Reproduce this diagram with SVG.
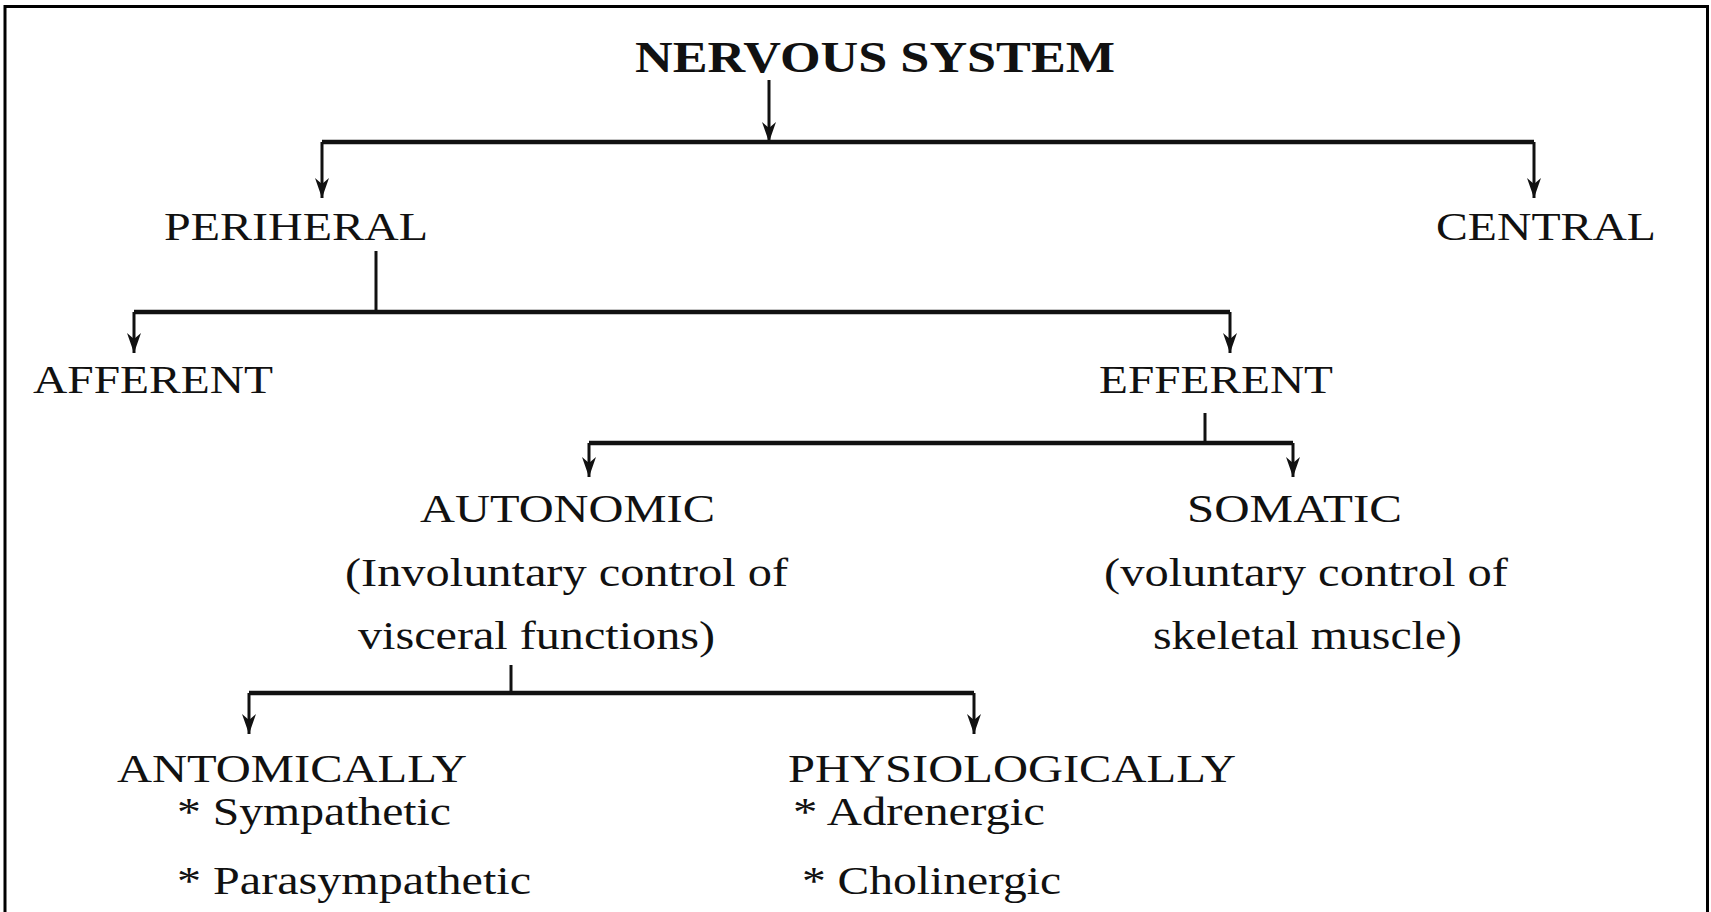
<svg xmlns="http://www.w3.org/2000/svg" width="1711" height="912" viewBox="0 0 1711 912">
<style>
.t{font-family:"Liberation Serif","Times New Roman",serif;font-size:40px;fill:#111}
.b{font-weight:bold;font-size:44px}
.c{fill:none;stroke:#111;stroke-width:3}
.h{stroke-width:4.5}
</style>
<defs>
<marker id="ah" viewBox="0 0 20 14" refX="20" refY="7" markerWidth="20" markerHeight="14" markerUnits="userSpaceOnUse" orient="auto">
<path d="M0,0 L20,7 L0,14 L6,7 z" fill="#111"/>
</marker>
</defs>
<rect width="1711" height="912" fill="#fff"/>
<rect x="5" y="6.5" width="1702.5" height="930" fill="none" stroke="#000" stroke-width="3"/>
<g id="connectors">
<path class="c" d="M769,80 V142" marker-end="url(#ah)"/>
<path class="c h" d="M322,142 H1534"/>
<path class="c" d="M322,142 V198" marker-end="url(#ah)"/>
<path class="c" d="M1534,142 V198" marker-end="url(#ah)"/>
<path class="c" d="M376,251 V312"/>
<path class="c h" d="M134,312 H1230"/>
<path class="c" d="M134,312 V353" marker-end="url(#ah)"/>
<path class="c" d="M1230,312 V353" marker-end="url(#ah)"/>
<path class="c" d="M1205,413 V443"/>
<path class="c h" d="M589,443 H1293"/>
<path class="c" d="M589,443 V477" marker-end="url(#ah)"/>
<path class="c" d="M1293,443 V477" marker-end="url(#ah)"/>
<path class="c" d="M511,665 V693"/>
<path class="c h" d="M249,693 H974"/>
<path class="c" d="M249,693 V734" marker-end="url(#ah)"/>
<path class="c" d="M974,693 V734" marker-end="url(#ah)"/>
</g>
<g id="nervous"><text class="t b" x="635" y="72" textLength="480" lengthAdjust="spacingAndGlyphs">NERVOUS SYSTEM</text></g>
<g id="peripheral"><text class="t" x="164" y="240" textLength="264" lengthAdjust="spacingAndGlyphs">PERIHERAL</text></g>
<g id="central"><text class="t" x="1436" y="240" textLength="220" lengthAdjust="spacingAndGlyphs">CENTRAL</text></g>
<g id="afferent"><text class="t" x="33" y="393" textLength="240" lengthAdjust="spacingAndGlyphs">AFFERENT</text></g>
<g id="efferent"><text class="t" x="1099" y="393" textLength="234" lengthAdjust="spacingAndGlyphs">EFFERENT</text></g>
<g id="autonomic">
<text class="t" x="420" y="522" textLength="295" lengthAdjust="spacingAndGlyphs">AUTONOMIC</text>
<text class="t" x="345" y="586" textLength="443" lengthAdjust="spacingAndGlyphs">(Involuntary control of</text>
<text class="t" x="358" y="649" textLength="357" lengthAdjust="spacingAndGlyphs">visceral functions)</text>
</g>
<g id="somatic">
<text class="t" x="1187" y="522" textLength="215" lengthAdjust="spacingAndGlyphs">SOMATIC</text>
<text class="t" x="1104" y="586" textLength="404" lengthAdjust="spacingAndGlyphs">(voluntary control of</text>
<text class="t" x="1153" y="649" textLength="309" lengthAdjust="spacingAndGlyphs">skeletal muscle)</text>
</g>
<g id="anatomically">
<text class="t" x="117" y="782" textLength="350" lengthAdjust="spacingAndGlyphs">ANTOMICALLY</text>
<text class="t" x="177" y="825" textLength="274" lengthAdjust="spacingAndGlyphs">* Sympathetic</text>
<text class="t" x="177" y="894" textLength="354" lengthAdjust="spacingAndGlyphs">* Parasympathetic</text>
</g>
<g id="physiologically">
<text class="t" x="788" y="782" textLength="448" lengthAdjust="spacingAndGlyphs">PHYSIOLOGICALLY</text>
<text class="t" x="793" y="825" textLength="252" lengthAdjust="spacingAndGlyphs">* Adrenergic</text>
<text class="t" x="802" y="894" textLength="259" lengthAdjust="spacingAndGlyphs">* Cholinergic</text>
</g>
</svg>
